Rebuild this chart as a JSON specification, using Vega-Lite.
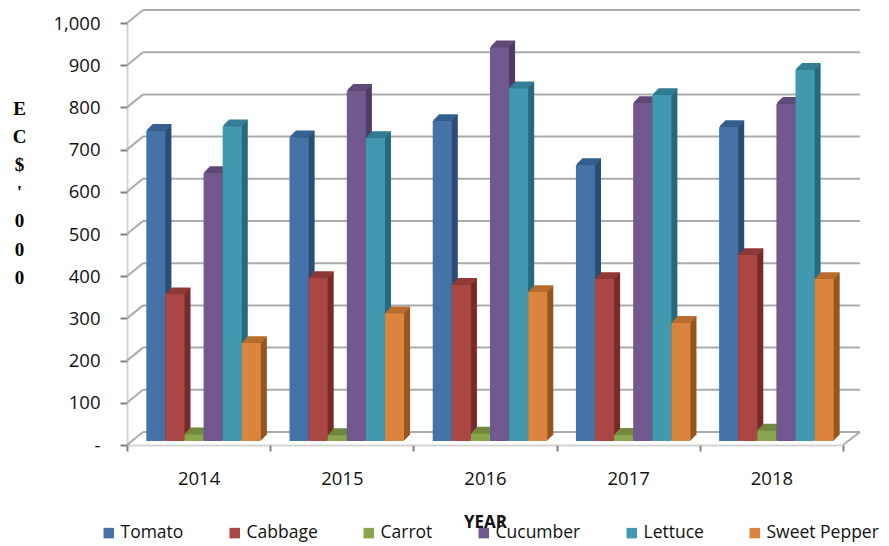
{"$schema":"https://vega.github.io/schema/vega-lite/v6.json","width":733,"height":435,"autosize":{"type":"none"},"padding":{"left":127,"top":10,"right":29,"bottom":101},"background":"white","config":{"view":{"stroke":null},"font":"Open Sans"},
"datasets":{"ticks":[{"v":0},{"v":100},{"v":200},{"v":300},{"v":400},{"v":500},{"v":600},{"v":700},{"v":800},{"v":900},{"v":1000}],
"main":[
{"year":"2014","crop":"Tomato","value":735},{"year":"2014","crop":"Cabbage","value":348},{"year":"2014","crop":"Carrot","value":16},{"year":"2014","crop":"Cucumber","value":635},{"year":"2014","crop":"Lettuce","value":746},{"year":"2014","crop":"Sweet Pepper","value":232},
{"year":"2015","crop":"Tomato","value":720},{"year":"2015","crop":"Cabbage","value":386},{"year":"2015","crop":"Carrot","value":14},{"year":"2015","crop":"Cucumber","value":830},{"year":"2015","crop":"Lettuce","value":718},{"year":"2015","crop":"Sweet Pepper","value":303},
{"year":"2016","crop":"Tomato","value":758},{"year":"2016","crop":"Cabbage","value":370},{"year":"2016","crop":"Carrot","value":18},{"year":"2016","crop":"Cucumber","value":933},{"year":"2016","crop":"Lettuce","value":836},{"year":"2016","crop":"Sweet Pepper","value":353},
{"year":"2017","crop":"Tomato","value":654},{"year":"2017","crop":"Cabbage","value":384},{"year":"2017","crop":"Carrot","value":15},{"year":"2017","crop":"Cucumber","value":801},{"year":"2017","crop":"Lettuce","value":820},{"year":"2017","crop":"Sweet Pepper","value":280},
{"year":"2018","crop":"Tomato","value":744},{"year":"2018","crop":"Cabbage","value":441},{"year":"2018","crop":"Carrot","value":25},{"year":"2018","crop":"Cucumber","value":799},{"year":"2018","crop":"Lettuce","value":880},{"year":"2018","crop":"Sweet Pepper","value":384}]},
"resolve":{"scale":{"x":"independent"}},
"layer":[
{"data":{"name":"ticks"},"mark":{"type":"rule","color":"#ababab","strokeWidth":2,"y2Offset":-13},"encoding":{"x":{"datum":0,"type":"quantitative","scale":{"domain":[0,1],"range":[0,16]},"axis":null},"x2":{"datum":1},
 "y":{"field":"v","type":"quantitative","scale":{"domain":[0,1000],"range":[435,13]},
 "axis":{"values":[0,100,200,300,400,500,600,700,800,900,1000],"labelExpr":"datum.value==0?'-':format(datum.value,',')","grid":false,"domainColor":"#a6a6a6","domainDash":[1,1],"domainWidth":2,"tickColor":"#7f7f7f","tickWidth":2,"tickSize":7,"labelPadding":20,"labelFontSize":18.5,"labelColor":"#111","labelFont":"Open Sans","title":["E","C","$","'","0","0","0"],"titleFont":"Liberation Serif","titleFontWeight":"bold","titleFontSize":19,"titleLineHeight":28.2,"titleAngle":0,"titleAlign":"center","titleBaseline":"top","titleX":-108,"titleY":89,"titleColor":"#000"}},
 "y2":{"field":"v"}}},
{"data":{"name":"ticks"},"mark":{"type":"rule","color":"#ababab","strokeWidth":2,"yOffset":-13},"encoding":{"x":{"datum":0,"type":"quantitative","scale":{"domain":[0,1],"range":[16,733]},"axis":null},"x2":{"datum":1},"y":{"field":"v","type":"quantitative"}}},
{"data":{"values":[{"v":0}]},"mark":{"type":"rule","color":"#ababab","strokeWidth":2,"y2Offset":-13},"encoding":{"x":{"datum":0,"type":"quantitative","scale":{"domain":[0,1],"range":[716,733]},"axis":null},"x2":{"datum":1},"y":{"field":"v","type":"quantitative"},"y2":{"field":"v"}}},
{"data":{"name":"main"},"resolve":{"scale":{"color":"independent","xOffset":"independent"}},
"encoding":{"x":{"field":"year","type":"nominal","scale":{"range":[0,716],"paddingInner":0,"paddingOuter":0},
 "axis":{"title":"YEAR","titleFont":"Open Sans","titleFontWeight":"bold","titleFontSize":17,"titleColor":"#111","titleX":358,"titleY":69,"labelAngle":0,"labelFontSize":18.5,"labelColor":"#111","labelPadding":18,"tickBand":"extent","tickColor":"#7f7f7f","tickWidth":2,"tickSize":6,"domainColor":"#a6a6a6","domainDash":[1,1],"domainWidth":2}},
 "y":{"field":"value","type":"quantitative"}},
"layer":[
{"mark":{"type":"bar","yOffset":-10,"y2Offset":-10},"encoding":{"xOffset":{"field":"crop","type":"nominal","scale":{"domain":["Tomato","Cabbage","Carrot","Cucumber","Lettuce","Sweet Pepper"],"range":[11,154.2],"paddingInner":0,"paddingOuter":0.75}},"y2":{"datum":0},"color":{"field":"crop","type":"nominal","legend":null,"scale":{"domain":["Tomato","Cabbage","Carrot","Cucumber","Lettuce","Sweet Pepper"],"range":["#2c4d75","#772c2a","#5f7530","#4e3d63","#276a7c","#95571f"]}}}},
{"mark":{"type":"bar","yOffset":-9,"y2Offset":-9},"encoding":{"xOffset":{"field":"crop","type":"nominal","scale":{"domain":["Tomato","Cabbage","Carrot","Cucumber","Lettuce","Sweet Pepper"],"range":[10,153.2],"paddingInner":0,"paddingOuter":0.75}},"y2":{"datum":0},"color":{"field":"crop","type":"nominal","legend":null,"scale":{"domain":["Tomato","Cabbage","Carrot","Cucumber","Lettuce","Sweet Pepper"],"range":["#2c4d75","#772c2a","#5f7530","#4e3d63","#276a7c","#95571f"]}}}},
{"mark":{"type":"bar","yOffset":-8,"y2Offset":-8},"encoding":{"xOffset":{"field":"crop","type":"nominal","scale":{"domain":["Tomato","Cabbage","Carrot","Cucumber","Lettuce","Sweet Pepper"],"range":[9,152.2],"paddingInner":0,"paddingOuter":0.75}},"y2":{"datum":0},"color":{"field":"crop","type":"nominal","legend":null,"scale":{"domain":["Tomato","Cabbage","Carrot","Cucumber","Lettuce","Sweet Pepper"],"range":["#2c4d75","#772c2a","#5f7530","#4e3d63","#276a7c","#95571f"]}}}},
{"mark":{"type":"bar","yOffset":-7,"y2Offset":-7},"encoding":{"xOffset":{"field":"crop","type":"nominal","scale":{"domain":["Tomato","Cabbage","Carrot","Cucumber","Lettuce","Sweet Pepper"],"range":[8,151.2],"paddingInner":0,"paddingOuter":0.75}},"y2":{"datum":0},"color":{"field":"crop","type":"nominal","legend":null,"scale":{"domain":["Tomato","Cabbage","Carrot","Cucumber","Lettuce","Sweet Pepper"],"range":["#2c4d75","#772c2a","#5f7530","#4e3d63","#276a7c","#95571f"]}}}},
{"mark":{"type":"bar","yOffset":-6,"y2Offset":-6},"encoding":{"xOffset":{"field":"crop","type":"nominal","scale":{"domain":["Tomato","Cabbage","Carrot","Cucumber","Lettuce","Sweet Pepper"],"range":[7,150.2],"paddingInner":0,"paddingOuter":0.75}},"y2":{"datum":0},"color":{"field":"crop","type":"nominal","legend":null,"scale":{"domain":["Tomato","Cabbage","Carrot","Cucumber","Lettuce","Sweet Pepper"],"range":["#2c4d75","#772c2a","#5f7530","#4e3d63","#276a7c","#95571f"]}}}},
{"mark":{"type":"bar","yOffset":-5,"y2Offset":-5},"encoding":{"xOffset":{"field":"crop","type":"nominal","scale":{"domain":["Tomato","Cabbage","Carrot","Cucumber","Lettuce","Sweet Pepper"],"range":[6,149.2],"paddingInner":0,"paddingOuter":0.75}},"y2":{"datum":0},"color":{"field":"crop","type":"nominal","legend":null,"scale":{"domain":["Tomato","Cabbage","Carrot","Cucumber","Lettuce","Sweet Pepper"],"range":["#2c4d75","#772c2a","#5f7530","#4e3d63","#276a7c","#95571f"]}}}},
{"mark":{"type":"bar","yOffset":-10,"y2Offset":-10,"strokeWidth":1.5},"encoding":{"xOffset":{"field":"crop","type":"nominal","scale":{"domain":["Tomato","Cabbage","Carrot","Cucumber","Lettuce","Sweet Pepper"],"range":[11,154.2],"paddingInner":0,"paddingOuter":0.75}},"y2":{"field":"value"},"stroke":{"field":"crop","type":"nominal","legend":null,"scale":{"domain":["Tomato","Cabbage","Carrot","Cucumber","Lettuce","Sweet Pepper"],"range":["#36608f","#8f3a37","#72893f","#5f4a79","#327f94","#b96f30"]}}}},
{"mark":{"type":"bar","yOffset":-9,"y2Offset":-9,"strokeWidth":1.5},"encoding":{"xOffset":{"field":"crop","type":"nominal","scale":{"domain":["Tomato","Cabbage","Carrot","Cucumber","Lettuce","Sweet Pepper"],"range":[10,153.2],"paddingInner":0,"paddingOuter":0.75}},"y2":{"field":"value"},"stroke":{"field":"crop","type":"nominal","legend":null,"scale":{"domain":["Tomato","Cabbage","Carrot","Cucumber","Lettuce","Sweet Pepper"],"range":["#36608f","#8f3a37","#72893f","#5f4a79","#327f94","#b96f30"]}}}},
{"mark":{"type":"bar","yOffset":-8,"y2Offset":-8,"strokeWidth":1.5},"encoding":{"xOffset":{"field":"crop","type":"nominal","scale":{"domain":["Tomato","Cabbage","Carrot","Cucumber","Lettuce","Sweet Pepper"],"range":[9,152.2],"paddingInner":0,"paddingOuter":0.75}},"y2":{"field":"value"},"stroke":{"field":"crop","type":"nominal","legend":null,"scale":{"domain":["Tomato","Cabbage","Carrot","Cucumber","Lettuce","Sweet Pepper"],"range":["#36608f","#8f3a37","#72893f","#5f4a79","#327f94","#b96f30"]}}}},
{"mark":{"type":"bar","yOffset":-7,"y2Offset":-7,"strokeWidth":1.5},"encoding":{"xOffset":{"field":"crop","type":"nominal","scale":{"domain":["Tomato","Cabbage","Carrot","Cucumber","Lettuce","Sweet Pepper"],"range":[8,151.2],"paddingInner":0,"paddingOuter":0.75}},"y2":{"field":"value"},"stroke":{"field":"crop","type":"nominal","legend":null,"scale":{"domain":["Tomato","Cabbage","Carrot","Cucumber","Lettuce","Sweet Pepper"],"range":["#36608f","#8f3a37","#72893f","#5f4a79","#327f94","#b96f30"]}}}},
{"mark":{"type":"bar","yOffset":-6,"y2Offset":-6,"strokeWidth":1.5},"encoding":{"xOffset":{"field":"crop","type":"nominal","scale":{"domain":["Tomato","Cabbage","Carrot","Cucumber","Lettuce","Sweet Pepper"],"range":[7,150.2],"paddingInner":0,"paddingOuter":0.75}},"y2":{"field":"value"},"stroke":{"field":"crop","type":"nominal","legend":null,"scale":{"domain":["Tomato","Cabbage","Carrot","Cucumber","Lettuce","Sweet Pepper"],"range":["#36608f","#8f3a37","#72893f","#5f4a79","#327f94","#b96f30"]}}}},
{"mark":{"type":"bar","yOffset":-5,"y2Offset":-5,"strokeWidth":1.5},"encoding":{"xOffset":{"field":"crop","type":"nominal","scale":{"domain":["Tomato","Cabbage","Carrot","Cucumber","Lettuce","Sweet Pepper"],"range":[6,149.2],"paddingInner":0,"paddingOuter":0.75}},"y2":{"field":"value"},"stroke":{"field":"crop","type":"nominal","legend":null,"scale":{"domain":["Tomato","Cabbage","Carrot","Cucumber","Lettuce","Sweet Pepper"],"range":["#36608f","#8f3a37","#72893f","#5f4a79","#327f94","#b96f30"]}}}},
{"mark":{"type":"bar","yOffset":-4,"y2Offset":-4},"encoding":{"xOffset":{"field":"crop","type":"nominal","scale":{"domain":["Tomato","Cabbage","Carrot","Cucumber","Lettuce","Sweet Pepper"],"range":[5,148.2],"paddingInner":0,"paddingOuter":0.75}},"y2":{"datum":0},"color":{"field":"crop","type":"nominal","scale":{"domain":["Tomato","Cabbage","Carrot","Cucumber","Lettuce","Sweet Pepper"],"range":["#4572a7","#aa4643","#89a54e","#71588f","#4198af","#db843d"]},"legend":{"title":null,"orient":"none","legendX":-27,"legendY":514,"direction":"horizontal","columns":6,"symbolType":"square","symbolSize":110,"symbolOpacity":1,"symbolStrokeWidth":0,"labelFontSize":17.5,"labelColor":"#111","labelFont":"Open Sans","labelOffset":3,"columnPadding":42}}}}
]}
]}
